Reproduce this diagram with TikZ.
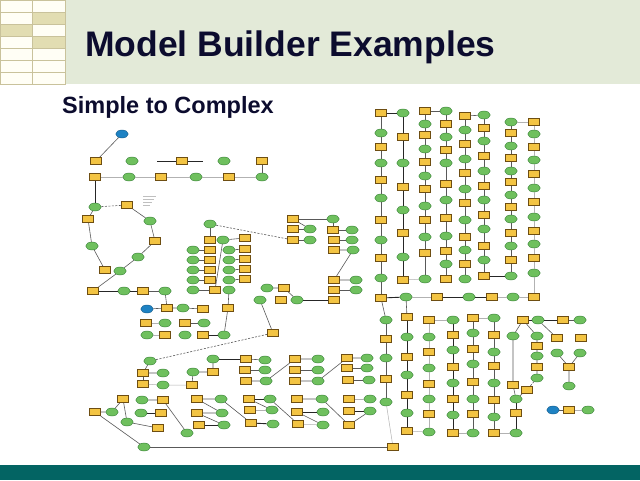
\documentclass[tikz,border=0pt]{standalone}
\usepackage{fontspec}
\setmainfont{Liberation Sans}
\usetikzlibrary{shapes.geometric}

\definecolor{headband}{HTML}{E3EAD8}
\definecolor{gridtan}{HTML}{C9C29B}
\definecolor{celltan}{HTML}{E2DDB2}
\definecolor{cellwhite}{HTML}{FFFEF5}
\definecolor{titleblue}{HTML}{0C0C2E}
\definecolor{footteal}{HTML}{036463}
\definecolor{toolfill}{HTML}{F3C443}
\definecolor{tooledge}{HTML}{6E4E12}
\definecolor{datafill}{HTML}{6FC05E}
\definecolor{dataedge}{HTML}{347E34}
\definecolor{inputfill}{HTML}{1E82C3}

\tikzset{
  mtool/.style={rectangle, draw=tooledge, fill=toolfill, line width=0.6pt,
    minimum width=11pt, minimum height=7.5pt, inner sep=0pt},
  mdata/.style={ellipse, draw=dataedge, fill=datafill, line width=0.4pt,
    minimum width=12.5pt, minimum height=8pt, inner sep=0pt},
  minput/.style={mdata, draw=inputfill!70!black, fill=inputfill},
  lk/.style={draw=black!65, line width=0.6pt},
  lkb/.style={draw=black!85, line width=0.9pt},
  lkf/.style={draw=black!30, line width=0.5pt},
  lkd/.style={lk, dash pattern=on 2pt off 1.5pt},
}

% one column of a model: name, x, link style, list of y/kind
\newcommand\mbcolumn[4]{%
  \foreach \yy/\kk [count=\ii, remember=\ii as \jj (initially 0)] in {#4}{%
    \node[\kk] (#1-\ii) at (#2,\yy) {};
    \ifnum\jj>0 \draw[#3] (#1-\jj) -- (#1-\ii);\fi
  }}

\begin{document}
\begin{tikzpicture}[x=1pt,y=-1pt]
\useasboundingbox (0,0) rectangle (640,480);
\fill[white] (0,0) rectangle (640,480);

% header
\fill[headband] (66,0) rectangle (640,84);
\foreach \r in {0,...,6}
  \foreach \c in {0,1}
    \filldraw[draw=gridtan, fill=cellwhite, line width=0.6pt] (\c*32.5,\r*12) rectangle ++(32.5,12);
\foreach \c/\r in {1/1,0/2,1/3}
  \filldraw[draw=gridtan, fill=celltan, line width=0.6pt] (\c*32.5,\r*12) rectangle ++(32.5,12);
\node[anchor=base west, inner sep=0pt, text=titleblue,
  font=\bfseries\fontsize{35.5}{40}\selectfont] (title) at (85,56) {Model Builder Examples};
\node[anchor=base west, inner sep=0pt, text=titleblue,
  font=\bfseries\fontsize{23.5}{28}\selectfont] (subtitle) at (62,113) {Simple to Complex};

% footer
\fill[footteal] (0,465) rectangle (640,480);

% simple model
\node[minput] (a0) at (122,134) {};
\foreach \n/\x/\y in {at1/96/161, at2/182/161, at3/262/161, at4/95/177, at5/161/177,
    at6/229/177, at7/127/205, at8/88/219, at9/155/241, at10/105/270, at11/93/291, at12/143/291}
  \node[mtool] (\n) at (\x,\y) {};
\foreach \n/\x/\y in {ad1/132/161, ad2/224/161, ad3/129/177, ad4/196/177, ad5/262/177,
    ad6/95/207, ad7/150/221, ad8/92/246, ad9/138/257, ad10/120/271, ad11/124/291, ad12/165/291}
  \node[mdata] (\n) at (\x,\y) {};
\coordinate (ah1) at (157,161);
\coordinate (ah2) at (203,161);
\foreach \k in {0,...,3}
  \draw[black!25, line width=0.5pt] (143,196+\k*3) -- ++(13-\k*2,0);

\draw[lk] (a0) -- (at1);
\draw[lkb] (ah1) -- (at2) -- (ah2);
\draw[lkf] (at4) -- (ad3) -- (at5) -- (ad4) -- (at6) -- (ad5);
\draw[lk] (at3) -- (ad5);
\draw[lkb] (at4) -- (ad6);
\draw[lkd] (ad6) -- (at7);
\draw[lk] (at7) -- (ad7) -- (at9) -- (ad9) -- (ad10);
\draw[lk] (ad6) -- (at8) -- (ad8) -- (at10);
\draw[lk] (at11) -- (ad10);
\draw[lkb] (at11) -- (ad11) -- (at12);
\draw[lk] (at12) -- (ad12);

% middle block
\foreach \y [count=\i] in {250,260,270,280,290} {
  \node[mdata] (ca-\i) at (193,\y) {};
  \node[mdata] (cb-\i) at (229,\y) {};
}
\foreach \y [count=\i] in {250,260,270,280} {
  \node[mtool] (cr-\i) at (210,\y) {};
  \node[mtool] (cs-\i) at (245,\y-1) {};
}
\node[mtool] (cr-5) at (215,290) {};
\foreach \n/\x/\y in {ct1/210/240, ct2/245/238, ct3/293/219, ct4/293/229, ct5/293/240,
    ct6/333/230, ct7/334/240, ct8/334/250, ct9/334/280, ct10/334/290, ct11/334/300,
    ct12/284/288, ct13/281/300}
  \node[mtool] (\n) at (\x,\y) {};
\foreach \n/\x/\y in {cd1/210/224, cd2/223/240, cd3/310/229, cd4/310/240, cd5/333/219,
    cd6/352/230, cd7/352/240, cd8/353/250, cd9/356/280, cd10/356/290, cd11/267/288,
    cd12/260/300, cd13/297/300}
  \node[mdata] (\n) at (\x,\y) {};

\foreach \i in {1,...,5} \draw[lk] (ca-\i) -- (cr-\i);
\foreach \i in {1,...,4} \draw[lk] (cb-\i) -- (cs-\i);
\draw[lk] (cd1) -- (ct1);
\draw[lkd] (cd1) -- (ct5);
\draw[lk] (cd2) -- (ct2);
\draw[lk] (cd2) -- (cr-5);
\draw[lk] (ct3) -- (cd5);
\draw[lk] (ct3) -- (cd3);
\draw[lk] (ct4) -- (cd3);
\draw[lk] (ct5) -- (cd4);
\draw[lk] (cd5) -- (ct6) -- (cd6);
\draw[lk] (ct7) -- (cd7);
\draw[lk] (ct8) -- (cd8) -- (ct9) -- (cd9);
\draw[lk] (ct10) -- (cd10);
\draw[lk] (cd11) -- (ct12) -- (cd13);
\draw[lkb] (cd13) -- (ct11);

% lower left block
\node[minput] (bs) at (147,309) {};
\foreach \n/\x/\y in {bt1/167/308, bt2/203/309, bt3/228/308, bt4/146/323, bt5/185/323,
    bt6/165/335, bt7/203/335, bt8/273/333, bt9/143/373, bt10/143/384, bt11/213/372,
    bt12/192/385, bt13/246/359, bt14/245/370, bt15/246/381, bt16/295/359, bt17/295/370,
    bt18/295/381, bt19/347/358, bt20/347/368, bt21/348/380, bt22/95/412, bt23/123/399,
    bt24/163/400, bt25/161/413, bt26/158/428, bt27/197/399, bt28/197/413, bt29/199/425,
    bt30/249/399, bt31/250/410, bt32/251/423, bt33/297/399, bt34/297/412, bt35/298/424,
    bt36/349/399, bt37/349/411, bt38/349/425}
  \node[mtool] (\n) at (\x,\y) {};
\foreach \n/\x/\y in {bd1/183/308, bd2/165/323, bd3/204/323, bd4/147/335, bd5/185/335,
    bd6/224/335, bd7/150/361, bd8/163/373, bd9/163/385, bd10/193/372, bd11/213/359,
    bd12/265/360, bd13/265/370, bd14/266/381, bd15/318/359, bd16/318/370, bd17/318/381,
    bd18/367/358, bd19/367/368, bd20/369/380, bd21/112/412, bd22/127/422, bd23/142/400,
    bd24/141/413, bd25/187/433, bd26/221/399, bd27/222/413, bd28/224/425, bd29/270/399,
    bd30/272/410, bd31/273/424, bd32/322/399, bd33/323/412, bd34/323/425, bd35/370/399,
    bd36/370/411, bd37/144/447}
  \node[mdata] (\n) at (\x,\y) {};

\draw[lk] (ad12) -- (bt1);
\draw[lk] (bs) -- (bt1) -- (bd1) -- (bt2);
\draw[lkf] (bt4) -- (bd2);
\draw[lk] (bt5) -- (bd3);
\draw[lkf] (bd4) -- (bt6);
\draw[lkb] (bt7) -- (bd6);
\draw[lk] (bt3) -- (bd6);
\draw[lk] (bt3) -- (cb-5);
\draw[lk] (cd12) -- (bt8);
\draw[lkd] (bt8) -- (bd7);
\draw[lk] (bd7) -- (bt9) -- (bd8);
\draw[lk] (bt9) -- (bt10);
\draw[lkf] (bt10) -- (bd9) -- (bt12);
\draw[lk] (bt12) -- (bd10) -- (bt11) -- (bd11);
\draw[lkb] (bd11) -- (bt13);
\draw[lk] (bt13) -- (bd12);
\draw[lk] (bt14) -- (bd13);
\draw[lk] (bt15) -- (bd14) -- (bt16) -- (bd15);
\draw[lk] (bt17) -- (bd16);
\draw[lk] (bt18) -- (bd17) -- (bt19) -- (bd18);
\draw[lk] (bt20) -- (bd19);
\draw[lk] (bt21) -- (bd20);
\draw[lk] (bt22) -- (bd21) -- (bt23) -- (bd22) -- (bt26);
\draw[lk] (bd23) -- (bt24) -- (bd25);
\draw[lkb] (bd24) -- (bt25);
\draw[lk] (bt22) -- (bd37);
\draw[lk] (bt27) -- (bd26) -- (bt32);
\draw[lk] (bt27) -- (bd27) -- (bt28) -- (bd28);
\draw[lkb] (bt29) -- (bd28);
\draw[lkb] (bt30) -- (bd29);
\draw[lk] (bt30) -- (bd30);
\draw[lkf] (bt31) -- (bd30);
\draw[lkb] (bt32) -- (bd31);
\draw[lk] (bd29) -- (bt35);
\draw[lk] (bt33) -- (bd32) -- (bt38);
\draw[lkb] (bt34) -- (bd33);
\draw[lk] (bt34) -- (bd34);
\draw[lkf] (bt35) -- (bd34);
\draw[lkf] (bt36) -- (bd35);
\draw[lkb] (bt37) -- (bd36);
\draw[lk] (bt38) -- (bd36);

% large model, upper columns
\mbcolumn{d1}{381}{lk}{113/mtool,133/mdata,147/mtool,163/mdata,180/mtool,198/mdata,
  220/mtool,240/mdata,258/mtool,278/mdata,298/mtool}
\mbcolumn{d2}{403}{lkb}{113/mdata,137/mtool,163/mdata,187/mtool,210/mdata,233/mtool,
  257/mdata,280/mtool}
\mbcolumn{d3}{425}{lk}{111/mtool,124/mdata,135/mtool,149/mdata,162/mtool,176/mdata,
  189/mtool,206/mdata,220/mtool,237/mdata,253/mtool,279/mdata}
\mbcolumn{d4}{446}{lk}{111/mdata,124/mtool,137/mdata,150/mtool,163/mdata,184/mtool,
  200/mdata,218/mtool,236/mdata,251/mtool,264/mdata,279/mtool}
\mbcolumn{d5}{465}{lk}{116/mtool,130/mdata,144/mtool,159/mdata,173/mtool,189/mdata,
  203/mtool,220/mdata,237/mtool,250/mdata,264/mtool,279/mdata}
\mbcolumn{d6}{484}{lk}{115/mdata,128/mtool,141/mdata,156/mtool,171/mdata,186/mtool,
  200/mdata,215/mtool,229/mdata,246/mtool,260/mdata,276/mtool}
\mbcolumn{d7}{511}{lk}{122/mdata,133/mtool,146/mdata,158/mtool,171/mdata,182/mtool,
  195/mdata,207/mtool,219/mdata,233/mtool,246/mdata,260/mtool,276/mdata}
\mbcolumn{d8}{534}{lkf}{122/mtool,134/mdata,147/mtool,160/mdata,174/mtool,188/mdata,
  202/mtool,217/mdata,231/mtool,244/mdata,258/mtool,273/mdata,297/mtool}
\draw[lkb] (d1-1) -- (d2-1);
\draw[lk] (d3-1) -- (d4-1);
\draw[lk] (d5-1) -- (d6-1);
\draw[lkf] (d8-1) -- (d7-1);
\draw[lkf] (d2-8) -- (d3-12);
\draw[lkb] (d6-12) -- (d7-13);

% large model, cross row
\foreach \n/\x/\k in {r1/406/mdata, r2/437/mtool, r3/469/mdata, r4/492/mtool, r5/513/mdata}
  \node[\k] (\n) at (\x,297) {};
\draw[lkb] (d1-11) -- (r1);
\draw[lkf] (r1) -- (r2);
\draw[lkb] (r2) -- (r3) -- (r4);
\draw[lkf] (r4) -- (r5) -- (d8-13);

% large model, lower columns
\mbcolumn{e1}{386}{lk}{320/mdata,339/mtool,358/mdata,379/mtool,402/mdata}
\mbcolumn{e2}{407}{lkb}{317/mtool,337/mdata,357/mtool,375/mdata,395/mtool,413/mdata,431/mtool}
\mbcolumn{e3}{429}{lkf}{320/mtool,337/mdata,352/mtool,368/mdata,384/mtool,399/mdata,
  414/mtool,432/mdata}
\mbcolumn{e4}{453}{lkb}{320/mdata,335/mtool,350/mdata,367/mtool,383/mdata,399/mtool,
  415/mdata,433/mtool}
\mbcolumn{e5}{473}{lk}{318/mtool,333/mdata,349/mtool,364/mdata,382/mtool,399/mdata,
  414/mtool,433/mdata}
\mbcolumn{e6}{494}{lk}{318/mdata,335/mtool,352/mdata,366/mtool,383/mdata,400/mtool,
  417/mdata,433/mtool}
\node[mtool] (et1) at (393,447) {};
\draw[lk] (d1-11) -- (e1-1);
\draw[lk] (r1) -- (e2-1);
\draw[lkf] (e2-7) -- (e3-8);
\draw[lkf] (e3-1) -- (e4-1);
\draw[lkf] (e4-8) -- (e5-8);
\draw[lkf] (e5-1) -- (e6-1);
\draw[lkf] (e1-5) -- (et1);
\draw[lk] (bd37) -- (et1);

% large model, right branch
\foreach \n/\x/\y/\k in {g1/523/320/mtool, g2/538/320/mdata, g3/563/320/mtool,
    g4/580/320/mdata, g5/513/336/mdata, g6/537/336/mdata, g7/537/346/mtool,
    g8/537/356/mdata, g9/537/367/mtool, g10/537/378/mdata, g11/527/390/mtool,
    g12/513/385/mtool, g13/516/399/mdata, g14/516/413/mtool, g15/516/433/mdata,
    g16/557/338/mtool, g17/581/338/mtool, g18/557/353/mdata, g19/580/353/mdata,
    g20/569/367/mtool, g21/569/386/mdata, g22/553/410/minput, g23/569/410/mtool,
    g24/588/410/mdata}
  \node[\k] (\n) at (\x,\y) {};
\draw[lkb] (g1) -- (g2) -- (g3);
\draw[lk] (g3) -- (g4);
\draw[lk] (g1) -- (g5) -- (g12) -- (g13);
\draw[lk] (g1) -- (g6) -- (g7) -- (g8) -- (g9) -- (g10);
\draw[lk] (g2) -- (g16);
\draw[lkd] (g10) -- (g11);
\draw[lk] (g11) -- (g13);
\draw[lkb] (g13) -- (g14) -- (g15);
\draw[lkf] (e6-8) -- (g15);
\draw[lk] (g18) -- (g20);
\draw[lk] (g19) -- (g20) -- (g21);
\draw[lk] (g22) -- (g23);
\draw[lkf] (g23) -- (g24);
\end{tikzpicture}
\end{document}
